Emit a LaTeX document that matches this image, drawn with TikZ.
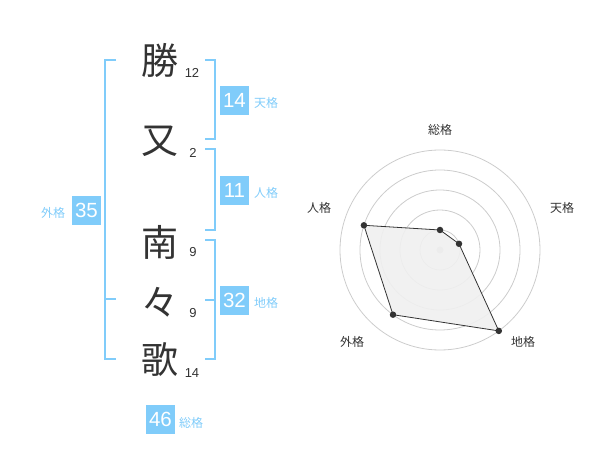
\documentclass[tikz,border=0pt]{standalone}
\usepackage{fontspec}
\setmainfont{Liberation Sans}
\newfontfamily\jp{Noto Sans CJK JP}
\definecolor{sky}{RGB}{128,204,250}
\definecolor{ink}{RGB}{51,51,51}
\definecolor{ring}{RGB}{204,204,204}
\begin{document}
\begin{tikzpicture}[x=1pt,y=-1pt,
  kanji/.style={font=\jp\fontsize{37}{37}\selectfont, text=ink, inner sep=0pt},
  strokenum/.style={font=\fontsize{13}{13}\selectfont, text=ink, inner sep=0pt},
  numbox/.style={fill=sky, text=white, minimum width=29pt, minimum height=29pt, inner sep=0pt, font=\fontsize{20.5}{20.5}\selectfont},
  boxlabel/.style={text=sky, font=\jp\fontsize{12}{12}\selectfont, inner sep=0pt},
  bracket/.style={draw=sky, line width=2pt},
  radarlabel/.style={text=ink, font=\jp\fontsize{12}{12}\selectfont, inner sep=0pt},
  ringline/.style={draw=ring, line width=0.8pt},
  dot/.style={circle, fill=ink, inner sep=0pt, minimum size=6.5pt}]
\useasboundingbox (0,0) rectangle (600,470);

% name characters
\node[kanji] (k1) at (160,60) {勝};
\node[kanji] (k2) at (160,141) {又};
\node[kanji] (k3) at (160,242) {南};
\node[kanji] (k4) at (160,302) {々};
\node[kanji] (k5) at (160,360) {歌};

\node[strokenum] (s1) at (192,73) {12};
\node[strokenum] (s2) at (193,153) {2};
\node[strokenum] (s3) at (193,252) {9};
\node[strokenum] (s4) at (193,313) {9};
\node[strokenum] (s5) at (192,373) {14};

% brackets
\draw[bracket] (205,60) -- (215,60) -- (215,139) -- (205,139);
\draw[bracket] (205,149) -- (215,149) -- (215,230) -- (205,230);
\draw[bracket] (205,240) -- (215,240) -- (215,359) -- (205,359);
\draw[bracket] (205,300) -- (215,300);
\draw[bracket] (116,60) -- (105,60) -- (105,359) -- (116,359);
\draw[bracket] (105,299) -- (116,299);

% boxes
\node[numbox] (ten) at (234.5,100.5) {14};
\node[boxlabel, anchor=west] (tenl) at (254,103) {天格};
\node[numbox] (jin) at (234.5,190.5) {11};
\node[boxlabel, anchor=west] (jinl) at (254,193) {人格};
\node[numbox] (chi) at (234.5,300.5) {32};
\node[boxlabel, anchor=west] (chil) at (254,303) {地格};
\node[numbox] (gai) at (86.5,210.5) {35};
\node[boxlabel] (gail) at (53,213) {外格};
\node[numbox] (sou) at (160.5,419) {46};
\node[boxlabel, anchor=west] (soul) at (179,423) {総格};

% radar
\coordinate (c) at (440,250);
\foreach \r in {20,40,60,80,100} \draw[ringline] (c) circle[radius=\r pt];
\fill[ring] (c) circle[radius=3.5pt];
\coordinate (p1) at (440,230);
\coordinate (p2) at (459.0,243.8);
\coordinate (p3) at (498.8,330.9);
\coordinate (p4) at (393.0,314.7);
\coordinate (p5) at (363.9,225.3);
\draw[fill=black!6, fill opacity=0.9, draw=ink, line width=0.8pt] (p1) -- (p2) -- (p3) -- (p4) -- (p5) -- cycle;
\foreach \p in {p1,p2,p3,p4,p5} \node[dot] at (\p) {};
\node[radarlabel] (r1) at (440,130) {総格};
\node[radarlabel] (r2) at (562,208) {天格};
\node[radarlabel] (r3) at (523,342) {地格};
\node[radarlabel] (r4) at (352,342) {外格};
\node[radarlabel] (r5) at (319,208) {人格};
\end{tikzpicture}
\end{document}
